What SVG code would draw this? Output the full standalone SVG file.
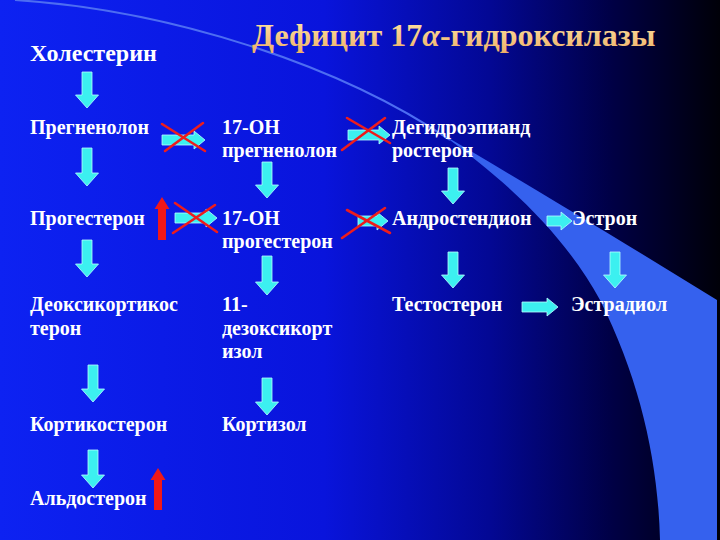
<svg xmlns="http://www.w3.org/2000/svg" width="720" height="540" viewBox="0 0 720 540">
<defs>
<linearGradient id="bg" x1="0" y1="0" x2="1" y2="0">
<stop offset="0" stop-color="#0d22f2"/>
<stop offset="0.45" stop-color="#0914dc"/>
<stop offset="0.68" stop-color="#030894"/>
<stop offset="0.85" stop-color="#000045"/>
<stop offset="1" stop-color="#000008"/>
</linearGradient>
<linearGradient id="tg" x1="0" y1="0" x2="0" y2="1">
<stop offset="0" stop-color="#ffe7a8"/>
<stop offset="1" stop-color="#eeb068"/>
</linearGradient>
<style>
.t{font-family:"Liberation Serif","Times New Roman",serif;font-weight:bold;font-size:20px;fill:#ffffff}
.ttl{font-family:"Liberation Serif","Times New Roman",serif;font-weight:bold;font-size:32px;fill:url(#tg)}
.ar{fill:#3cf0f0;stroke:#b8ffff;stroke-width:0.8}
.ra{fill:#f01818}
.x{stroke:#ee1c1c;stroke-width:2.6;stroke-linecap:round;fill:none}
</style>
</defs>
<rect x="0" y="0" width="720" height="540" fill="url(#bg)"/>
<path d="M440,133 C520,180 620,240 717,300 L717,540 L660,540 C658,460 640,380 600,300 C570,245 520,190 440,133 Z" fill="#3561ee"/>
<path d="M15,0 C170,10 340,65 450,140" fill="none" stroke="#4d6df2" stroke-width="2"/>

<text class="ttl" x="252" y="46">Дефицит 17<tspan font-style="italic">α</tspan>-гидроксилазы</text>

<g id="n-cholesterol"><text class="t" x="30" y="61" style="font-size:24px">Холестерин</text></g>
<g id="n-pregnenolone"><text class="t" x="30" y="134">Прегненолон</text></g>
<g id="n-17oh-preg"><text class="t" x="222" y="134">17-OH</text><text class="t" x="222" y="157">прегненолон</text></g>
<g id="n-dhea"><text class="t" x="392" y="134">Дегидроэпианд</text><text class="t" x="392" y="157">ростерон</text></g>
<g id="n-progesterone"><text class="t" x="30" y="225">Прогестерон</text></g>
<g id="n-17oh-prog"><text class="t" x="222" y="225">17-OH</text><text class="t" x="222" y="248">прогестерон</text></g>
<g id="n-androstenedione"><text class="t" x="392" y="225">Андростендион</text></g>
<g id="n-estrone"><text class="t" x="572" y="225">Эстрон</text></g>
<g id="n-doc"><text class="t" x="30" y="311">Деоксикортикос</text><text class="t" x="30" y="335">терон</text></g>
<g id="n-11doc"><text class="t" x="222" y="311">11-</text><text class="t" x="222" y="335">дезоксикорт</text><text class="t" x="222" y="358">изол</text></g>
<g id="n-testosterone"><text class="t" x="392" y="311">Тестостерон</text></g>
<g id="n-estradiol"><text class="t" x="571" y="311">Эстрадиол</text></g>
<g id="n-corticosterone"><text class="t" x="30" y="431">Кортикостерон</text></g>
<g id="n-cortisol"><text class="t" x="222" y="431">Кортизол</text></g>
<g id="n-aldosterone"><text class="t" x="30" y="505">Альдостерон</text></g>

<g id="connectors">
<polygon class="ar" points="82,72 92,72 92,95 98.5,95 87,108 75.5,95 82,95"/>
<polygon class="ar" points="82,148 92,148 92,173 98.5,173 87,186 75.5,173 82,173"/>
<polygon class="ar" points="82,240 92,240 92,264 98.5,264 87,277 75.5,264 82,264"/>
<polygon class="ar" points="88,365 98,365 98,389 104.5,389 93,402 81.5,389 88,389"/>
<polygon class="ar" points="88,450 98,450 98,475 104.5,475 93,488 81.5,475 88,475"/>
<polygon class="ar" points="262,162 272,162 272,185 278.5,185 267,198 255.5,185 262,185"/>
<polygon class="ar" points="262,256 272,256 272,282 278.5,282 267,295 255.5,282 262,282"/>
<polygon class="ar" points="262,378 272,378 272,402 278.5,402 267,415 255.5,402 262,402"/>
<polygon class="ar" points="448,168 458,168 458,191 464.5,191 453,204 441.5,191 448,191"/>
<polygon class="ar" points="448,252 458,252 458,275 464.5,275 453,288 441.5,275 448,275"/>
<polygon class="ar" points="610,252 620,252 620,275 626.5,275 615,288 603.5,275 610,275"/>

<polygon class="ar" points="547,216 561,216 561,212 572,221 561,230 561,226 547,226"/>
<polygon class="ar" points="522,302 547,302 547,298 558,307 547,316 547,312 522,312"/>
<polygon class="ar" points="162,135 194,135 194,131 205,140 194,149 194,145 162,145"/>
<polygon class="ar" points="348,130 379,130 379,126 390,135 379,144 379,140 348,140"/>
<polygon class="ar" points="175,213 206,213 206,209 217,218 206,227 206,223 175,223"/>
<polygon class="ar" points="358,216 377,216 377,212 388,221 377,230 377,226 358,226"/>

<polygon class="ra" points="158,240 166,240 166,209 169.5,209 162,197 154.5,209 158,209"/>
<polygon class="ra" points="154,510 162,510 162,480 165.5,480 158,468 150.5,480 154,480"/>

<line class="x" x1="162" y1="124" x2="205" y2="151"/>
<line class="x" x1="165" y1="151" x2="203" y2="123"/>
<line class="x" x1="347" y1="118" x2="390" y2="143"/>
<line class="x" x1="342" y1="150" x2="385" y2="118"/>
<line class="x" x1="175" y1="203" x2="217" y2="232"/>
<line class="x" x1="173" y1="233" x2="215" y2="205"/>
<line class="x" x1="347" y1="210" x2="390" y2="233"/>
<line class="x" x1="342" y1="238" x2="385" y2="208"/>
</g>
</svg>
